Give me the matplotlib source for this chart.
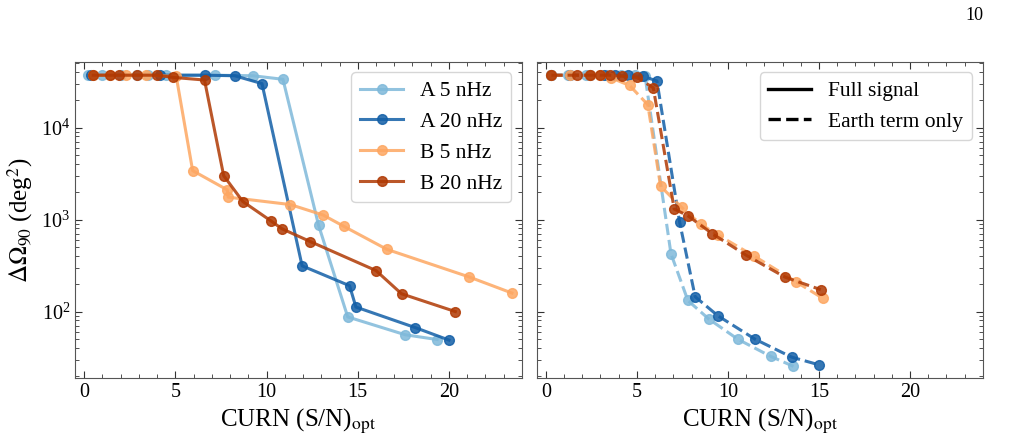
import matplotlib
matplotlib.use('Agg')
import matplotlib.pyplot as plt
from matplotlib.lines import Line2D
from matplotlib.ticker import AutoMinorLocator

plt.rcParams['font.family'] = ['Liberation Serif', 'DejaVu Serif']
plt.rcParams['mathtext.fontset'] = 'stix'

# left panel: full signal, CURN S/N vs sky area
a5_x = [0.2, 1.0, 2.0, 2.9, 3.5, 4.5, 7.2, 9.25, 10.9, 12.85, 14.45, 17.6, 19.35]
a5_y = [37000, 37000, 37000, 37000, 37000, 37000, 37000, 36500, 33400, 870, 87.5, 56, 49.7]
a20_x = [0.4, 4.15, 6.6, 8.25, 9.75, 11.95, 14.55, 14.9, 18.15, 20.0]
a20_y = [37000, 37000, 37000, 36500, 30000, 314, 191, 112, 67, 49]
b5_x = [0.5, 1.4, 2.3, 3.4, 5.05, 5.95, 7.85, 7.9, 11.3, 13.1, 14.25, 16.6, 21.1, 23.45]
b5_y = [37000, 37000, 37000, 37000, 36000, 3400, 2100, 1750, 1455, 1120, 841, 474, 238, 159]
b20_x = [0.5, 1.4, 1.9, 2.9, 4.0, 4.9, 6.6, 7.65, 8.7, 10.25, 10.85, 12.4, 16.0, 17.4, 20.35]
b20_y = [37000, 37000, 37000, 37000, 37000, 35000, 32800, 3000, 1570, 964, 793, 576, 279, 156, 100]

# right panel: earth term only
ea5_x = [0.3, 1.2, 2.2, 3.3, 4.1, 4.9, 5.45, 6.87, 7.8, 8.95, 10.55, 12.35, 13.6]
ea5_y = [37000, 37000, 37000, 37000, 37000, 37000, 36000, 426, 132, 83, 50, 32.6, 25.4]
ea20_x = [0.3, 1.3, 2.4, 3.2, 3.8, 4.5, 5.35, 6.1, 7.35, 8.2, 9.45, 11.5, 13.5, 15.0]
ea20_y = [37000, 37000, 37000, 37000, 37000, 37000, 36000, 32000, 930, 145, 90, 50, 32, 26.4]
eb5_x = [0.3, 1.3, 2.4, 3.0, 3.6, 4.6, 5.6, 6.3, 7.45, 8.5, 9.45, 11.45, 13.75, 15.2]
eb5_y = [37000, 37000, 37000, 37000, 34500, 28600, 17700, 2300, 1360, 890, 680, 400, 210, 140]
eb20_x = [0.3, 1.7, 2.4, 3.0, 3.5, 4.2, 5.0, 5.9, 7.05, 7.8, 9.15, 11.0, 13.15, 15.1]
eb20_y = [37000, 37000, 37000, 37000, 37000, 36000, 35000, 27000, 1300, 1100, 700, 410, 236, 173]

labels = ['A 5 nHz', 'A 20 nHz', 'B 5 nHz', 'B 20 nHz']
colors = [plt.cm.Blues(0.45), plt.cm.Blues(0.82), plt.cm.Oranges(0.4), plt.cm.Oranges(0.85)]

fig = plt.figure(figsize=(10.09, 4.4), dpi=100)
ax1 = fig.add_axes([0.0743, 0.141, 0.443, 0.719])
ax2 = fig.add_axes([0.532, 0.141, 0.442, 0.719], sharey=ax1)

full = [(a5_x, a5_y), (a20_x, a20_y), (b5_x, b5_y), (b20_x, b20_y)]
earth = [(ea5_x, ea5_y), (ea20_x, ea20_y), (eb5_x, eb5_y), (eb20_x, eb20_y)]

for (x, y), c, lab in zip(full, colors, labels):
    ax1.plot(x, y, '-o', color=c, lw=2.2, ms=7, alpha=0.85, label=lab)
for (x, y), c in zip(earth, colors):
    ax2.plot(x, y, '--o', color=c, lw=2.2, ms=7, alpha=0.85)

for ax in (ax1, ax2):
    ax.set_yscale('log')
    ax.set_xlim(-0.5, 24.0)
    ax.set_ylim(19, 52000)
    ax.set_xticks([0, 5, 10, 15, 20])
    ax.xaxis.set_minor_locator(AutoMinorLocator(5))
    ax.tick_params(which='both', direction='in', top=True, right=True,
                   labelsize=14.5, colors='#333333', labelcolor='black')
    ax.tick_params(which='major', length=5)
    ax.tick_params(which='minor', length=3)
    for s in ax.spines.values():
        s.set_color('#555555')
    ax.set_xlabel(r'CURN (S/N)$_{\rm opt}$', fontsize=18)

plt.setp(ax2.get_yticklabels(), visible=False)

ax1.set_ylabel(r'$\Delta\Omega_{90}$ (deg$^2$)', fontsize=18)
ax1.legend(loc='upper right', fontsize=15.5, handlelength=2.0)

handles = [Line2D([], [], color='black', lw=2.4, ls='-'),
           Line2D([], [], color='black', lw=2.4, ls='--')]
ax2.legend(handles, ['Full signal', 'Earth term only'], loc='upper right',
           fontsize=15.5, handlelength=2.0)

fig.text(0.966, 0.965, '10', fontsize=13, ha='center', va='center')

fig.savefig('out.png', dpi=100)
